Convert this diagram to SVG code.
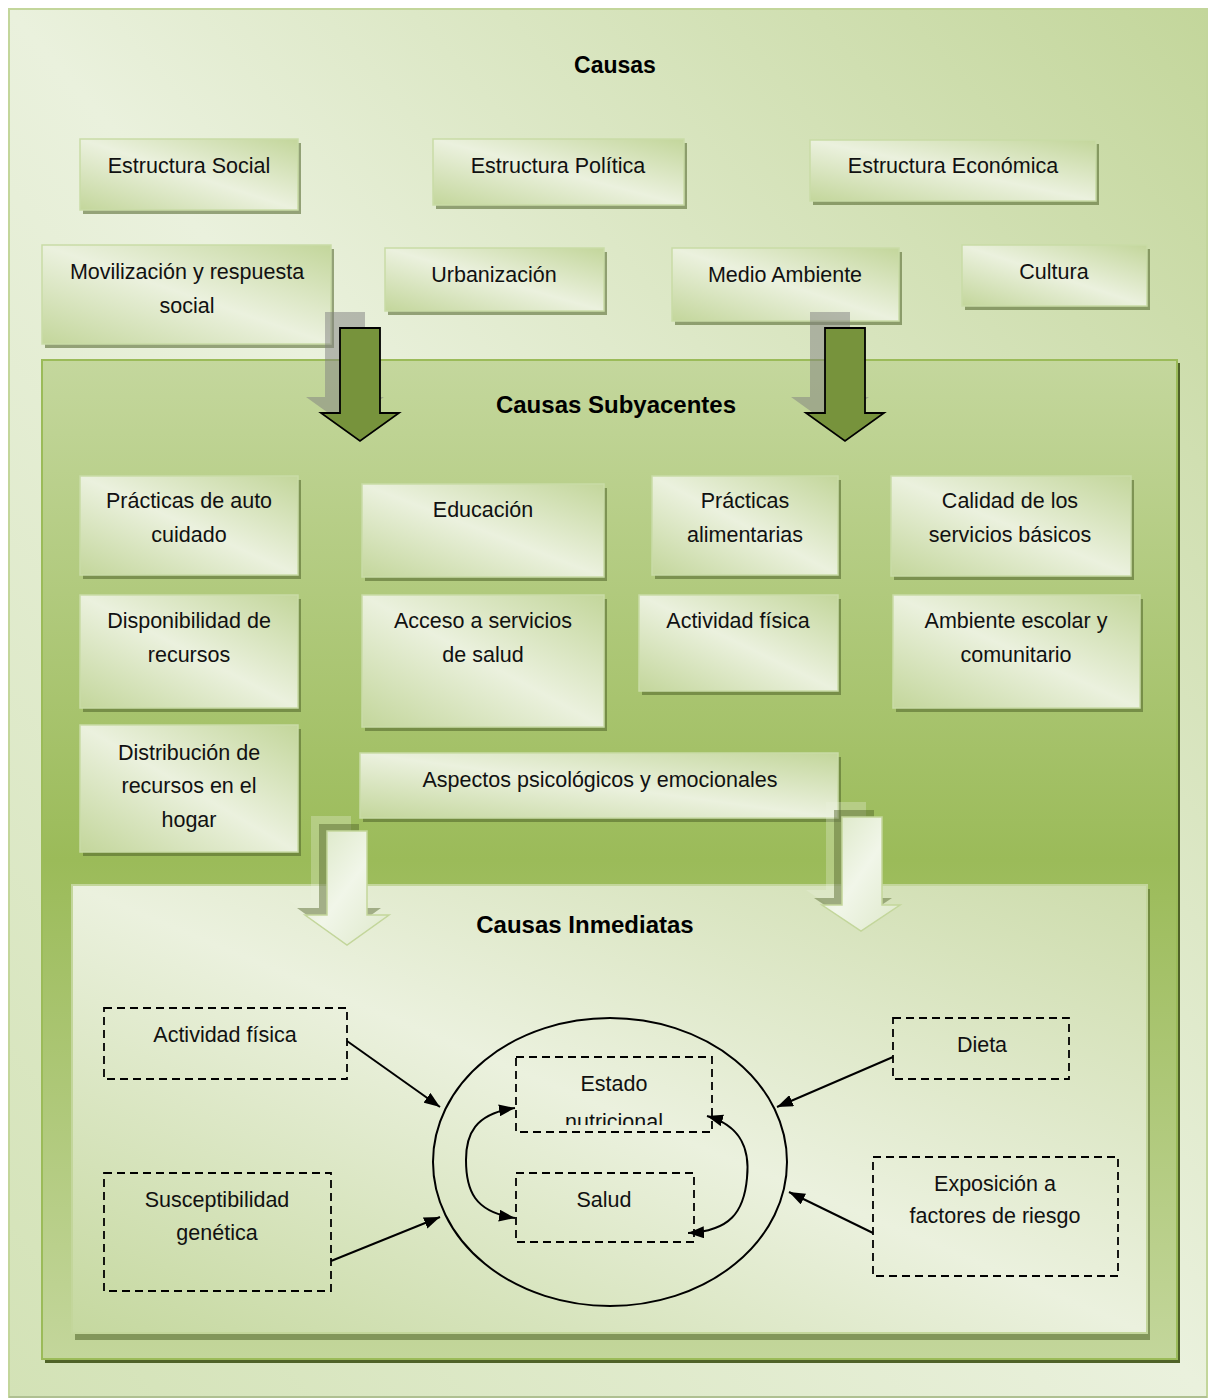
<svg xmlns="http://www.w3.org/2000/svg" width="1208" height="1399" viewBox="0 0 1208 1399">
  <defs>
    <!-- diagonal "shine" fills -->
    <linearGradient id="gOuter" x1="1" y1="0" x2="0" y2="1">
      <stop offset="0" stop-color="#c3d69b"/>
      <stop offset="0.5" stop-color="#eaf1dd"/>
      <stop offset="1" stop-color="#d3e2b6"/>
    </linearGradient>
    <linearGradient id="gMid" x1="0" y1="0" x2="0" y2="1">
      <stop offset="0" stop-color="#c4d79d"/>
      <stop offset="0.5" stop-color="#9bbb59"/>
      <stop offset="1" stop-color="#c3d69b"/>
    </linearGradient>
    <linearGradient id="gInner" x1="1" y1="0" x2="0" y2="1">
      <stop offset="0" stop-color="#cddcac"/>
      <stop offset="0.5" stop-color="#ebf1de"/>
      <stop offset="1" stop-color="#c5d89f"/>
    </linearGradient>
    <linearGradient id="gBox" x1="1" y1="0" x2="0" y2="1">
      <stop offset="0" stop-color="#c3d69b"/>
      <stop offset="0.5" stop-color="#ebf1de"/>
      <stop offset="1" stop-color="#c3d69b"/>
    </linearGradient>
    <linearGradient id="gLight" x1="0" y1="0" x2="1" y2="1">
      <stop offset="0" stop-color="#d9e6c2"/>
      <stop offset="0.5" stop-color="#f1f6e9"/>
      <stop offset="1" stop-color="#dde8c9"/>
    </linearGradient>
    <marker id="ah" viewBox="0 0 16 12" refX="16" refY="6" markerWidth="16" markerHeight="12" markerUnits="userSpaceOnUse" orient="auto-start-reverse">
      <path d="M0,0 L16,6 L0,12 z" fill="#000"/>
    </marker>
    <clipPath id="clipEstado">
      <rect x="516" y="1057" width="196" height="68"/>
    </clipPath>
  </defs>
  <style>
    .box { fill: url(#gBox); stroke: #c9dba6; stroke-width: 1.5; }
    .sh { fill: #4f6228; opacity: 0.55; }
    .t { font-family: "Liberation Sans", Arial, sans-serif; font-size: 21.5px; fill: #111; text-anchor: middle; }
    .title { font-family: "Liberation Sans", Arial, sans-serif; font-size: 24px; font-weight: bold; fill: #000; text-anchor: middle; }
    .dash { fill: none; stroke: #000; stroke-width: 1.8; stroke-dasharray: 8 5; }
    .con { fill: none; stroke: #000; stroke-width: 2; }
    .darr { fill: #77933c; stroke: #000; stroke-width: 1.8; stroke-linejoin: miter; }
    .darr-sh { fill: #7f7f7f; opacity: 0.5; }
    .larr { fill: url(#gLight); stroke: #c3d69b; stroke-width: 1.5; }
    .larr-sh1 { fill: #4f6228; opacity: 0.45; }
    .larr-sh2 { fill: #ebf1de; opacity: 0.3; }
  </style>

  <!-- outer panel: Causas -->
  <g id="panel-causas">
    <rect x="9" y="9" width="1198" height="1388" fill="url(#gOuter)" stroke="#c3d69b" stroke-width="2"/>
    <line x1="9" y1="1397" x2="1207" y2="1397" stroke="#a8b88e" stroke-width="1.5"/>
    <text class="title" x="615" y="73" style="font-size:23px">Causas</text>
  </g>

  <g id="n-estructura-social">
    <rect class="sh" x="83" y="143" width="218" height="71"/>
    <rect class="box" x="80" y="139" width="218" height="71"/>
    <text class="t" x="189" y="173">Estructura Social</text>
  </g>
  <g id="n-estructura-politica">
    <rect class="sh" x="436" y="143" width="251" height="66"/>
    <rect class="box" x="433" y="139" width="251" height="66"/>
    <text class="t" x="558" y="173">Estructura Política</text>
  </g>
  <g id="n-estructura-economica">
    <rect class="sh" x="813" y="144" width="286" height="61"/>
    <rect class="box" x="810" y="140" width="286" height="61"/>
    <text class="t" x="953" y="173">Estructura Económica</text>
  </g>
  <g id="n-movilizacion">
    <rect class="sh" x="45" y="249" width="289" height="99"/>
    <rect class="box" x="42" y="245" width="289" height="99"/>
    <text class="t" x="187" y="279">Movilización y respuesta</text>
    <text class="t" x="187" y="313">social</text>
  </g>
  <g id="n-urbanizacion">
    <rect class="sh" x="388" y="252" width="219" height="63"/>
    <rect class="box" x="385" y="248" width="219" height="63"/>
    <text class="t" x="494" y="282">Urbanización</text>
  </g>
  <g id="n-medio-ambiente">
    <rect class="sh" x="675" y="252" width="227" height="73"/>
    <rect class="box" x="672" y="248" width="227" height="73"/>
    <text class="t" x="785" y="282">Medio Ambiente</text>
  </g>
  <g id="n-cultura">
    <rect class="sh" x="965" y="249" width="185" height="61"/>
    <rect class="box" x="962" y="245" width="185" height="61"/>
    <text class="t" x="1054" y="279">Cultura</text>
  </g>

  <!-- middle panel: Causas Subyacentes -->
  <g id="panel-subyacentes">
    <rect x="45" y="363" width="1135" height="1000" fill="#4f6228"/>
    <rect x="42" y="360" width="1135" height="999" fill="url(#gMid)" stroke="#9bbb59" stroke-width="2"/>
    <text class="title" x="616" y="413">Causas Subyacentes</text>
  </g>

  <g id="n-autocuidado">
    <rect class="sh" x="83" y="480" width="218" height="99"/>
    <rect class="box" x="80" y="476" width="218" height="99"/>
    <text class="t" x="189" y="508">Prácticas de auto</text>
    <text class="t" x="189" y="542">cuidado</text>
  </g>
  <g id="n-educacion">
    <rect class="sh" x="365" y="488" width="242" height="93"/>
    <rect class="box" x="362" y="484" width="242" height="93"/>
    <text class="t" x="483" y="517">Educación</text>
  </g>
  <g id="n-alimentarias">
    <rect class="sh" x="655" y="480" width="186" height="99"/>
    <rect class="box" x="652" y="476" width="186" height="99"/>
    <text class="t" x="745" y="508">Prácticas</text>
    <text class="t" x="745" y="542">alimentarias</text>
  </g>
  <g id="n-servicios-basicos">
    <rect class="sh" x="894" y="480" width="240" height="100"/>
    <rect class="box" x="891" y="476" width="240" height="100"/>
    <text class="t" x="1010" y="508">Calidad de los</text>
    <text class="t" x="1010" y="542">servicios básicos</text>
  </g>
  <g id="n-disponibilidad">
    <rect class="sh" x="83" y="599" width="218" height="113"/>
    <rect class="box" x="80" y="595" width="218" height="113"/>
    <text class="t" x="189" y="628">Disponibilidad de</text>
    <text class="t" x="189" y="662">recursos</text>
  </g>
  <g id="n-acceso-salud">
    <rect class="sh" x="365" y="599" width="242" height="132"/>
    <rect class="box" x="362" y="595" width="242" height="132"/>
    <text class="t" x="483" y="628">Acceso a servicios</text>
    <text class="t" x="483" y="662">de salud</text>
  </g>
  <g id="n-actividad-fisica-sub">
    <rect class="sh" x="642" y="599" width="199" height="96"/>
    <rect class="box" x="639" y="595" width="199" height="96"/>
    <text class="t" x="738" y="628">Actividad física</text>
  </g>
  <g id="n-ambiente-escolar">
    <rect class="sh" x="896" y="599" width="247" height="113"/>
    <rect class="box" x="893" y="595" width="247" height="113"/>
    <text class="t" x="1016" y="628">Ambiente escolar y</text>
    <text class="t" x="1016" y="662">comunitario</text>
  </g>
  <g id="n-distribucion">
    <rect class="sh" x="83" y="729" width="218" height="127"/>
    <rect class="box" x="80" y="725" width="218" height="127"/>
    <text class="t" x="189" y="760">Distribución de</text>
    <text class="t" x="189" y="793">recursos en el</text>
    <text class="t" x="189" y="827">hogar</text>
  </g>
  <g id="n-psicologicos">
    <rect class="sh" x="363" y="757" width="478" height="65"/>
    <rect class="box" x="360" y="753" width="478" height="65"/>
    <text class="t" x="600" y="787">Aspectos psicológicos y emocionales</text>
  </g>

  <!-- inner panel: Causas Inmediatas -->
  <g id="panel-inmediatas">
    <rect class="sh" x="75" y="889" width="1075" height="451"/>
    <rect x="72" y="885" width="1075" height="448" fill="url(#gInner)" stroke="#c3d69b" stroke-width="2"/>
    <text class="title" x="585" y="933">Causas Inmediatas</text>
  </g>

  <!-- block arrows between levels -->
  <g id="level-arrows">
    <polygon class="darr-sh" points="325,312 365,312 365,397 384,397 345,425 306,397 325,397"/>
    <polygon class="darr" points="340,328 380,328 380,413 399,413 360,441 321,413 340,413"/>
    <polygon class="darr-sh" points="810,312 850,312 850,397 869,397 830,425 791,397 810,397"/>
    <polygon class="darr" points="825,328 865,328 865,413 884,413 845,441 806,413 825,413"/>

    <polygon class="larr-sh2" points="311,816 351,816 351,900 373,900 331,930 289,900 311,900"/>
    <polygon class="larr-sh1" points="319,824 359,824 359,908 381,908 339,938 297,908 319,908"/>
    <polygon class="larr" points="327,831 367,831 367,915 389,915 347,945 305,915 327,915"/>
    <polygon class="larr-sh2" points="826,802 866,802 866,890 884,890 845,916 806,890 826,890"/>
    <polygon class="larr-sh1" points="834,810 874,810 874,898 892,898 853,924 814,898 834,898"/>
    <polygon class="larr" points="842,817 882,817 882,905 900,905 861,931 822,905 842,905"/>
  </g>

  <!-- immediate-cause nodes -->
  <g id="n-actividad-fisica">
    <rect class="dash" x="104" y="1008" width="243" height="71"/>
    <text class="t" x="225" y="1042">Actividad física</text>
  </g>
  <g id="n-susceptibilidad">
    <rect class="dash" x="104" y="1173" width="227" height="118"/>
    <text class="t" x="217" y="1207">Susceptibilidad</text>
    <text class="t" x="217" y="1240">genética</text>
  </g>
  <g id="n-dieta">
    <rect class="dash" x="893" y="1018" width="176" height="61"/>
    <text class="t" x="982" y="1052">Dieta</text>
  </g>
  <g id="n-exposicion">
    <rect class="dash" x="873" y="1157" width="245" height="119"/>
    <text class="t" x="995" y="1191">Exposición a</text>
    <text class="t" x="995" y="1223">factores de riesgo</text>
  </g>
  <g id="n-nucleo">
    <ellipse cx="610" cy="1162" rx="177" ry="144" fill="none" stroke="#000" stroke-width="2"/>
  </g>
  <g id="n-estado-nutricional">
    <rect class="dash" x="516" y="1057" width="196" height="75"/>
    <g clip-path="url(#clipEstado)">
      <text class="t" x="614" y="1091">Estado</text>
      <text class="t" x="614" y="1129">nutricional</text>
    </g>
  </g>
  <g id="n-salud">
    <rect class="dash" x="516" y="1173" width="178" height="69"/>
    <text class="t" x="604" y="1207">Salud</text>
  </g>

  <!-- connectors -->
  <g id="connectors">
    <line class="con" x1="347" y1="1041" x2="440" y2="1107" marker-end="url(#ah)"/>
    <line class="con" x1="331" y1="1261" x2="440" y2="1217" marker-end="url(#ah)"/>
    <line class="con" x1="893" y1="1057" x2="777" y2="1107" marker-end="url(#ah)"/>
    <line class="con" x1="873" y1="1233" x2="789" y2="1192" marker-end="url(#ah)"/>
    <path class="con" d="M515,1108 C474,1114 466,1135 466,1160 C466,1190 474,1212 515,1218" marker-start="url(#ah)" marker-end="url(#ah)"/>
    <path class="con" d="M707,1116 C742,1126 750,1150 747,1178 C744,1212 730,1231 688,1233" marker-start="url(#ah)" marker-end="url(#ah)"/>
  </g>
</svg>
